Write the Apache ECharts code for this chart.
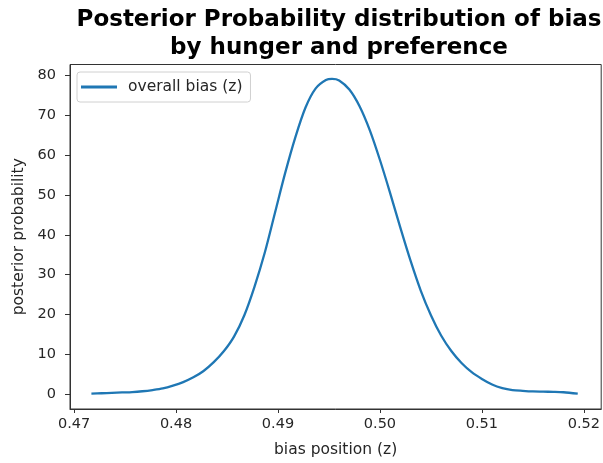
<!DOCTYPE html>
<html>
<head>
<meta charset="utf-8">
<script src="https://cdn.jsdelivr.net/npm/echarts@6/dist/echarts.min.js"></script>
<style>
  html, body { margin: 0; padding: 0; background: #fff; }
  #chart { width: 603px; height: 463px; }
</style>
</head>
<body>
<div id="chart"></div>
<script>
'use strict';

// values
const biasPos = [0.4717, 0.4727, 0.4737, 0.4747, 0.4757, 0.4767, 0.4777, 0.4787, 0.4797,
  0.4807, 0.4817, 0.4827, 0.4837, 0.4847, 0.4857, 0.4867, 0.4877, 0.4887, 0.4897,
  0.4907, 0.4917, 0.4927, 0.4937, 0.4947, 0.4953, 0.4960, 0.4970, 0.4980, 0.4990,
  0.5000, 0.5010, 0.5020, 0.5030, 0.5040, 0.5050, 0.5060, 0.5070, 0.5080, 0.5090,
  0.5100, 0.5110, 0.5120, 0.5130, 0.5140, 0.5150, 0.5160, 0.5170, 0.5180, 0.5194];
const posterior = [0.1, 0.2, 0.3, 0.4, 0.5, 0.7, 1.0, 1.4, 2.1,
  3.0, 4.2, 5.8, 8.0, 10.8, 14.5, 19.8, 27.0, 35.5, 45.5,
  55.5, 64.5, 72.0, 76.8, 78.9, 79.2, 78.8, 76.5, 72.3, 66.3,
  58.8, 50.5, 41.8, 33.5, 26.0, 19.8, 14.7, 10.8, 7.8, 5.5,
  3.8, 2.4, 1.5, 1.0, 0.8, 0.65, 0.6, 0.55, 0.45, 0.1];
const xTicks = [0.47, 0.48, 0.49, 0.50, 0.51, 0.52];
const yTicks = [0, 10, 20, 30, 40, 50, 60, 70, 80];

const font = 'DejaVu Sans';
const chart = echarts.init(document.getElementById('chart'));

chart.setOption({
  animation: false,
  textStyle: { fontFamily: font },
  title: {
    text: 'Posterior Probability distribution of bias\nby hunger and preference',
    left: 334,
    top: 1,
    textAlign: 'center',
    textStyle: { fontFamily: font, fontSize: 23, fontWeight: 'bold', color: '#000', lineHeight: 28 }
  },
  legend: {
    left: 77,
    top: 72,
    data: ['overall bias (z)'],
    icon: 'rect',
    itemWidth: 36,
    itemHeight: 3,
    padding: [7, 8, 7, 4],
    borderColor: '#d0d0d0',
    borderWidth: 1,
    borderRadius: 3,
    textStyle: { fontFamily: font, fontSize: 15.5, color: '#262626', padding: [0, 0, 0, 6] }
  },
  grid: {
    left: 70,
    right: 0,
    top: 64.5,
    bottom: 53,
    show: true,
    borderColor: '#333',
    borderWidth: 1
  },
  xAxis: {
    type: 'value',
    min: 0.4696,
    max: 0.5217,
    name: 'bias position (z)',
    nameLocation: 'middle',
    nameGap: 33,
    nameTextStyle: { fontFamily: font, fontSize: 15.5, color: '#262626' },
    axisLine: { show: true, onZero: false, lineStyle: { color: '#333' } },
    axisTick: { show: true, length: 4, customValues: xTicks, lineStyle: { color: '#333' } },
    axisLabel: {
      customValues: xTicks,
      formatter: v => v.toFixed(2),
      fontFamily: font, fontSize: 14.5, color: '#262626', margin: 8
    },
    splitLine: { show: false }
  },
  yAxis: {
    type: 'value',
    min: -3.76,
    max: 82.8,
    name: 'posterior probability',
    nameLocation: 'middle',
    nameGap: 37,
    nameTextStyle: { fontFamily: font, fontSize: 15.5, color: '#262626' },
    axisLine: { show: true, onZero: false, lineStyle: { color: '#333' } },
    axisTick: { show: true, length: 5, customValues: yTicks, lineStyle: { color: '#333' } },
    axisLabel: {
      customValues: yTicks,
      fontFamily: font, fontSize: 14.5, color: '#262626', margin: 14
    },
    splitLine: { show: false }
  },
  series: [{
    name: 'overall bias (z)',
    type: 'line',
    data: biasPos.map((x, i) => [x, posterior[i]]),
    smooth: 0.3,
    showSymbol: false,
    color: '#1f77b4',
    lineStyle: { width: 2.3, color: '#1f77b4' }
  }]
});
</script>
</body>
</html>
